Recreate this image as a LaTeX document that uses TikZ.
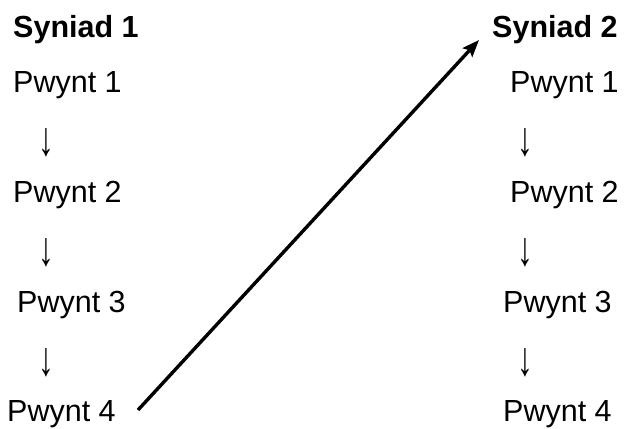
\documentclass[tikz,border=0pt]{standalone}
\usepackage{fontspec}
\setmainfont{Liberation Sans}
\usetikzlibrary{arrows.meta}
\newcommand{\dnarrow}{\scalebox{1.05}[1.6]{↓}}
\begin{document}
\begin{tikzpicture}[x=1bp,y=-1bp,
  txt/.style={inner sep=0pt,anchor=base west,font=\fontsize{30.5bp}{36bp}\selectfont},
  hd/.style={txt,font=\fontsize{30.5bp}{36bp}\selectfont\bfseries},
  dn/.style={inner sep=0pt,anchor=base,font=\fontsize{30bp}{36bp}\selectfont},
  link/.style={line width=3.4bp,-{Stealth[length=17bp,width=13bp,inset=3bp]}}]
\useasboundingbox (0,0) rectangle (627,428);
% left column
\node[hd]  (h1) at (13,37)  {Syniad 1};
\node[txt] (l1) at (13,92)  {Pwynt 1};
\node[dn]  (la1) at (46,155) {\dnarrow};
\node[txt] (l2) at (13,202) {Pwynt 2};
\node[dn]  (la2) at (46,265) {\dnarrow};
\node[txt] (l3) at (17,312) {Pwynt 3};
\node[dn]  (la3) at (46,375) {\dnarrow};
\node[txt] (l4) at (7,421)  {Pwynt 4};
% right column
\node[hd]  (h2) at (492,37)  {Syniad 2};
\node[txt] (r1) at (510,92)  {Pwynt 1};
\node[dn]  (ra1) at (525,155) {\dnarrow};
\node[txt] (r2) at (510,202) {Pwynt 2};
\node[dn]  (ra2) at (525,265) {\dnarrow};
\node[txt] (r3) at (503,312) {Pwynt 3};
\node[dn]  (ra3) at (525,375) {\dnarrow};
\node[txt] (r4) at (503,421) {Pwynt 4};
% connector
\coordinate (s) at (138,410);
\coordinate (e) at (479,40);
\draw[link] (s) -- (e);
\end{tikzpicture}
\end{document}
